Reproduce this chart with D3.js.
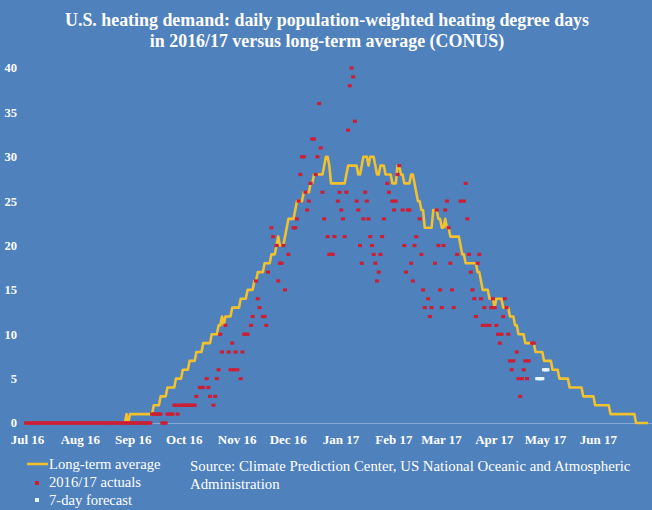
<!DOCTYPE html>
<html>
<head>
<meta charset="utf-8">
<script src="https://cdn.jsdelivr.net/npm/d3@7"></script>
<style>
  body { margin: 0; background: #4f81bd; }
  svg { display: block; }
  text { font-family: "Liberation Serif", "DejaVu Serif", serif; fill: #ffffff; }
</style>
</head>
<body>
<div id="chart"></div>
<script>
'use strict'

var width = 652
var height = 510

var titleLines = [
  'U.S. heating demand: daily population-weighted heating degree days',
  'in 2016/17 versus long-term average (CONUS)'
]
var monthLabels = ['Jul 16', 'Aug 16', 'Sep 16', 'Oct 16', 'Nov 16', 'Dec 16',
  'Jan 17', 'Feb 17', 'Mar 17', 'Apr 17', 'May 17', 'Jun 17']
var monthStarts = ['07-01', '08-01', '09-01', '10-01', '11-01', '12-01',
  '01-01', '02-01', '03-01', '04-01', '05-01', '06-01']
var yTicks = [0, 5, 10, 15, 20, 25, 30, 35, 40]

// long-term average: day the value changes, and the new value
var avgStarts = ['07-01', '08-29', '08-30', '08-31', '09-14', '09-18', '09-22', '09-27',
  '10-01', '10-05', '10-09', '10-13', '10-18', '10-22', '10-24', '10-25', '10-26', '10-30',
  '11-04', '11-08', '11-12', '11-14', '11-18', '11-22', '11-25', '11-26', '11-27', '11-30',
  '12-01', '12-02', '12-06', '12-07', '12-11', '12-15', '12-17', '12-23', '12-24', '12-26',
  '12-27', '01-05', '01-06', '01-12', '01-14', '01-15', '01-18', '01-19', '01-22', '01-23',
  '01-25', '01-28', '02-01', '02-04', '02-06', '02-08', '02-12', '02-14', '02-15', '02-16',
  '02-18', '02-20', '02-25', '02-28', '03-02', '03-04', '03-05', '03-07', '03-13', '03-14',
  '03-16', '03-23', '03-25', '03-26', '03-30', '04-02', '04-03', '04-07', '04-11', '04-14',
  '04-16', '04-20', '04-26', '05-01', '05-06', '05-10', '05-16', '05-24', '05-31', '06-09',
  '06-24']
var avgValues = [0, 1, 0, 1, 2, 3, 4, 5,
  6, 7, 8, 9, 10, 11, 12, 11, 12, 13,
  14, 15, 16, 17, 18, 19, 20, 21, 20, 21,
  22, 23, 24, 25, 26, 27, 28, 29, 30, 29,
  27, 28, 29, 28, 29, 30, 29, 30, 29, 28,
  29, 28, 27, 29, 28, 27, 28, 27, 26, 25,
  24, 22, 24, 23, 22, 23, 22, 21, 20, 19,
  18, 17, 16, 15, 14, 13, 14, 13, 12, 11,
  10, 9, 8, 7, 6, 5, 4, 3, 2, 1,
  0]
var avgEnd = '2017-07-01'

// 2016/17 actuals: zero every day of the summer stretch, then daily readings
var actualZeroRun = ['07-01', '09-12']
var actualDates = ['09-13', '09-14', '09-15', '09-16', '09-17', '09-18', '09-19', '09-20',
  '09-21', '09-22', '09-23', '09-24', '09-25', '09-26', '09-27', '09-28', '09-29', '09-30',
  '10-01', '10-02', '10-03', '10-04', '10-05', '10-06', '10-07', '10-08', '10-09', '10-11',
  '10-12', '10-13', '10-15', '10-16', '10-17', '10-19', '10-20', '10-21', '10-22', '10-23',
  '10-24', '10-26', '10-28', '10-29', '10-30', '10-31', '11-01', '11-02', '11-04', '11-05',
  '11-06', '11-07', '11-08', '11-10', '11-11', '11-13', '11-14', '11-15', '11-17', '11-18',
  '11-19', '11-20', '11-22', '11-23', '11-25', '11-26', '11-27', '11-28', '11-29', '11-30',
  '12-02', '12-05', '12-06', '12-07', '12-08', '12-09', '12-10', '12-11', '12-12', '12-13',
  '12-14', '12-15', '12-16', '12-17', '12-18', '12-19', '12-20', '12-21', '12-22', '12-23',
  '12-25', '12-26', '12-27', '12-28', '12-29', '12-31', '01-01', '01-02', '01-03', '01-04',
  '01-05', '01-06', '01-07', '01-08', '01-09', '01-10', '01-11', '01-12', '01-13', '01-14',
  '01-15', '01-16', '01-17', '01-18', '01-19', '01-20', '01-21', '01-22', '01-23', '01-24',
  '01-25', '01-26', '01-27', '01-29', '01-30', '02-01', '02-02', '02-03', '02-04', '02-05',
  '02-07', '02-08', '02-09', '02-10', '02-11', '02-12', '02-13', '02-14', '02-15', '02-17',
  '02-18', '02-19', '02-20', '02-22', '02-23', '02-24', '02-26', '02-27', '02-28', '03-01',
  '03-02', '03-03', '03-04', '03-05', '03-06', '03-07', '03-08', '03-09', '03-11', '03-13',
  '03-15', '03-16', '03-17', '03-18', '03-19', '03-20', '03-21', '03-22', '03-23', '03-24',
  '03-25', '03-26', '03-27', '03-28', '03-30', '03-31', '04-01', '04-02', '04-03', '04-04',
  '04-05', '04-06', '04-07', '04-08', '04-09', '04-10', '04-11', '04-12', '04-13', '04-15',
  '04-16', '04-17', '04-18', '04-19', '04-20', '04-21', '04-22', '04-24', '04-25']
var actualValues = [1, 1, 1, 1, 1, 1, 0, 0,
  0, 1, 1, 1, 1, 2, 2, 1, 2, 2,
  2, 2, 2, 2, 2, 2, 2, 2, 3, 4,
  4, 4, 5, 4, 3, 2, 3, 5, 6, 10,
  8, 11, 8, 6, 9, 6, 8, 6, 5, 8,
  10, 10, 10, 11, 12, 16, 14, 13, 12, 12,
  11, 17, 22, 21, 20, 16, 18, 18, 20, 15,
  19, 22, 22, 23, 25, 28, 30, 30, 26, 24,
  25, 27, 32, 32, 28, 30, 36, 31, 26, 23,
  21, 19, 19, 19, 21, 25, 26, 24, 23, 21,
  26, 33, 38, 40, 39, 34, 25, 24, 20, 18,
  23, 26, 25, 23, 21, 20, 19, 18, 16, 17,
  19, 21, 23, 27, 26, 25, 24, 25, 28, 29,
  24, 20, 17, 24, 24, 18, 16, 20, 21, 23,
  19, 15, 13, 14, 12, 13, 18, 24, 20, 15,
  13, 20, 24, 25, 22, 18, 15, 13, 19, 25,
  25, 27, 23, 19, 17, 15, 14, 12, 18, 19,
  14, 11, 13, 11, 11, 13, 14, 13, 11, 10,
  9, 10, 12, 14, 13, 10, 7, 6, 7, 8,
  5, 3, 5, 6, 7, 5, 7, 9, 9]

var forecastDates = ['04-27', '04-28', '04-29', '04-30', '05-01', '05-02', '05-03']
var forecastValues = [5, 5, 5, 5, 6, 6, 6]

var legendLabels = ['Long-term average', '2016/17 actuals', '7-day forecast']
var sourceLines = [
  'Source: Climate Prediction Center, US National Oceanic and Atmospheric',
  'Administration'
]

var colors = { avg: '#f2c12e', actual: '#cc1f36', forecast: '#e6f4ff', zero: '#86a8d4' }

function toDate (md) {
  var m = +md.slice(0, 2)
  return new Date(m >= 7 ? 2016 : 2017, m - 1, +md.slice(3, 5))
}

var x = d3.scaleTime()
  .domain([toDate('07-01'), new Date(2017, 6, 1)])
  .range([26, 648])
var y = d3.scaleLinear()
  .domain([0, 40])
  .range([423, 68])

// step line points: each run holds its value until the day before the next change
var avgPoints = []
avgStarts.forEach(function (s, i) {
  var start = toDate(s)
  var next = i + 1 < avgStarts.length ? toDate(avgStarts[i + 1]) : new Date(avgEnd)
  var last = i + 1 < avgStarts.length ? d3.timeDay.offset(next, -1) : new Date(2017, 6, 1)
  avgPoints.push({ date: start, value: avgValues[i] })
  if (last > start) avgPoints.push({ date: last, value: avgValues[i] })
})

var actuals = d3.timeDay.range(toDate(actualZeroRun[0]), d3.timeDay.offset(toDate(actualZeroRun[1]), 1))
  .map(function (d) { return { date: d, value: 0 } })
  .concat(actualDates.map(function (d, i) { return { date: toDate(d), value: actualValues[i] } }))
var forecast = forecastDates.map(function (d, i) { return { date: toDate(d), value: forecastValues[i] } })

var svg = d3.select('#chart').append('svg')
  .attr('width', width)
  .attr('height', height)

svg.append('rect')
  .attr('width', width)
  .attr('height', height)
  .attr('fill', '#4f81bd')

svg.selectAll('text.title')
  .data(titleLines)
  .enter().append('text')
  .attr('class', 'title')
  .attr('x', 327)
  .attr('y', function (d, i) { return 26 + i * 21 })
  .attr('text-anchor', 'middle')
  .style('font-size', '17.9px')
  .style('font-weight', 'bold')
  .text(function (d) { return d })

// zero baseline
svg.append('line')
  .attr('x1', x.range()[0])
  .attr('x2', x.range()[1] + 4)
  .attr('y1', y(0) + 0.5)
  .attr('y2', y(0) + 0.5)
  .attr('stroke', colors.zero)
  .attr('stroke-width', 1)

svg.selectAll('text.ytick')
  .data(yTicks)
  .enter().append('text')
  .attr('class', 'ytick')
  .attr('x', 17)
  .attr('y', function (d) { return y(d) })
  .attr('dy', '0.35em')
  .attr('text-anchor', 'end')
  .style('font-size', '12.5px')
  .style('font-weight', 'bold')
  .text(function (d) { return d })

svg.selectAll('text.xtick')
  .data(monthLabels)
  .enter().append('text')
  .attr('class', 'xtick')
  .attr('x', function (d, i) { return x(toDate(monthStarts[i])) + 1.5 })
  .attr('y', 444)
  .attr('text-anchor', 'middle')
  .style('font-size', '13px')
  .style('font-weight', 'bold')
  .text(function (d) { return d })

var line = d3.line()
  .x(function (d) { return x(d.date) })
  .y(function (d) { return y(d.value) })

svg.append('path')
  .datum(avgPoints)
  .attr('d', line)
  .attr('fill', 'none')
  .attr('stroke', colors.avg)
  .attr('stroke-width', 2.6)
  .attr('stroke-linejoin', 'round')

svg.append('g').selectAll('rect')
  .data(actuals)
  .enter().append('rect')
  .attr('x', function (d) { return x(d.date) - 2 })
  .attr('y', function (d) { return y(d.value) - 1.6 })
  .attr('width', 4)
  .attr('height', 3.2)
  .attr('fill', colors.actual)

svg.append('g').selectAll('rect')
  .data(forecast)
  .enter().append('rect')
  .attr('x', function (d) { return x(d.date) - 2 })
  .attr('y', function (d) { return y(d.value) - 1.6 })
  .attr('width', 4)
  .attr('height', 3.2)
  .attr('fill', colors.forecast)

// legend
var legend = svg.append('g')
legend.append('line')
  .attr('x1', 27).attr('x2', 48)
  .attr('y1', 464).attr('y2', 464)
  .attr('stroke', colors.avg)
  .attr('stroke-width', 2.6)
legend.append('rect')
  .attr('x', 35).attr('y', 481)
  .attr('width', 4).attr('height', 4)
  .attr('fill', colors.actual)
legend.append('rect')
  .attr('x', 35).attr('y', 498)
  .attr('width', 4).attr('height', 4)
  .attr('fill', colors.forecast)
legend.selectAll('text')
  .data(legendLabels)
  .enter().append('text')
  .attr('x', 49)
  .attr('y', function (d, i) { return 464 + i * 18 })
  .attr('dy', '0.35em')
  .style('font-size', '14.6px')
  .text(function (d) { return d })

svg.selectAll('text.source')
  .data(sourceLines)
  .enter().append('text')
  .attr('class', 'source')
  .attr('x', 190)
  .attr('y', function (d, i) { return 466 + i * 18 })
  .attr('dy', '0.35em')
  .style('font-size', '14.8px')
  .text(function (d) { return d })
</script>
</body>
</html>
